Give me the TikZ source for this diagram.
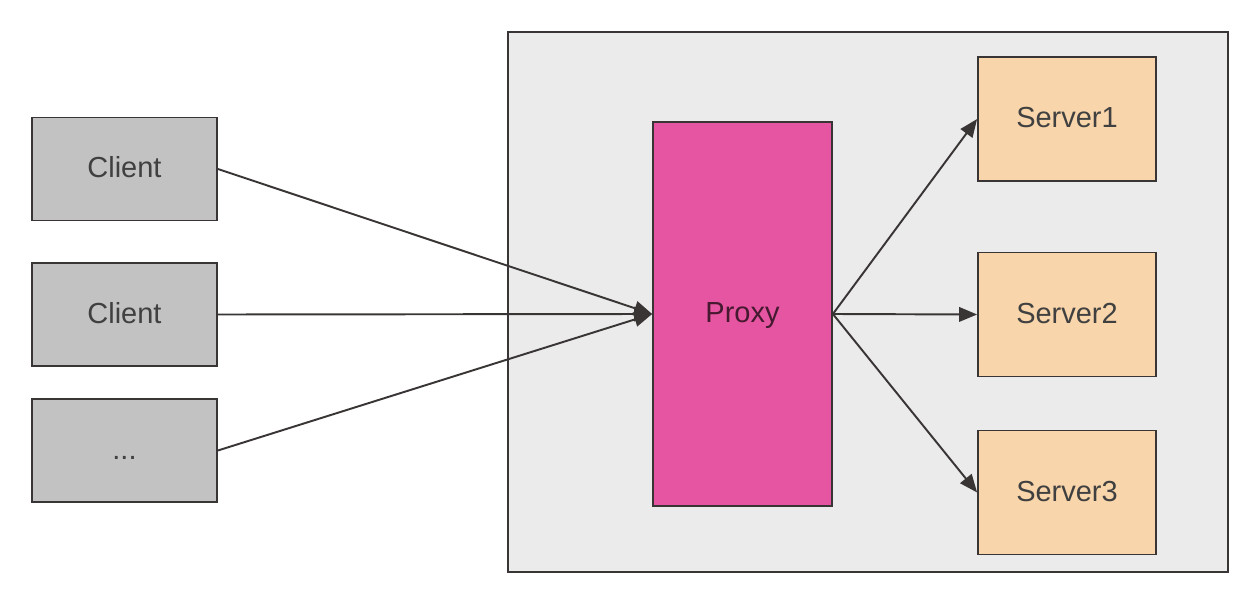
\documentclass[tikz,border=0pt]{standalone}
\usepackage{fontspec}
\setmainfont{Liberation Sans}
\usepackage{xcolor}
\usetikzlibrary{arrows.meta,positioning}

\definecolor{areagray}{HTML}{EBEBEB}
\definecolor{clientgray}{HTML}{C2C2C2}
\definecolor{proxypink}{HTML}{E655A1}
\definecolor{serverpeach}{HTML}{F8D5AB}
\definecolor{edgedark}{HTML}{3A3535}

\begin{document}
\begin{tikzpicture}[
    font=\fontsize{16.5}{19}\selectfont,
    box/.style={draw=edgedark, line width=1pt, align=center, text=black!75,
                text height=1em, text depth=0pt},
    client/.style={box, fill=clientgray, minimum width=3.7cm, minimum height=2.06cm},
    proxy/.style={box, fill=proxypink, minimum width=3.58cm, minimum height=7.68cm,
                  text=black!70!proxypink},
    server/.style={box, fill=serverpeach, minimum width=3.56cm, minimum height=2.48cm},
    flow/.style={-{Triangle[length=3.6mm, width=2.9mm]}, line width=1.1pt, draw=edgedark}
]
\useasboundingbox (0,0) rectangle (25.04,11.92);

% ---------- backend area ----------
\node[draw=edgedark, line width=1pt, fill=areagray, minimum width=14.4cm,
      minimum height=10.8cm, inner sep=0pt] (area) at (17.36,5.88) {};

% ---------- clients ----------
\node[client] (client1) at (2.49,8.54) {Client};
\node[client] (client2) at (2.49,5.63) {Client};
\node[client] (client3) at (2.49,2.91) {...};

% ---------- proxy ----------
\node[proxy] (proxy) at (14.85,5.64) {Proxy};

% ---------- servers ----------
\node[server] (server1) at (21.34,9.54) {Server1};
\node[server] (server2) at (21.34,5.63) {Server2};
\node[server] (server3) at (21.34,2.07) {Server3};

% ---------- connections ----------
\draw[flow] (client1.east) -- (proxy.west);
\draw[flow] (client2.east) -- (proxy.west);
\draw[flow] (client3.east) -- (proxy.west);
\draw[flow] (proxy.east) -- (server1.west);
\draw[flow] (proxy.east) -- (server2.west);
\draw[flow] (proxy.east) -- (server3.west);

\end{tikzpicture}
\end{document}
